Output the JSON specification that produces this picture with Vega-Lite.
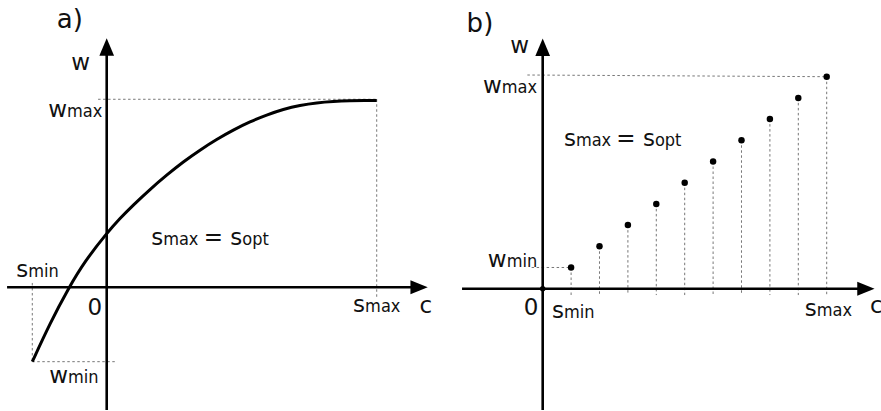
{
  "$schema": "https://vega.github.io/schema/vega-lite/v6.json",
  "padding": 0,
  "spacing": 0,
  "bounds": "flush",
  "background": "white",
  "config": {
    "view": {"stroke": null},
    "text": {"font": "DejaVu Sans", "color": "#111111", "baseline": "alphabetic"}
  },
  "datasets": {
    "curveA": [
      {"c": -2.756, "w": -3.957},
      {"c": -2.1, "w": -1.915},
      {"c": -1.422, "w": -0.064},
      {"c": -0.804, "w": 1.399},
      {"c": 0.0, "w": 2.872},
      {"c": 0.493, "w": 3.67},
      {"c": 0.985, "w": 4.378},
      {"c": 1.604, "w": 5.213},
      {"c": 2.222, "w": 5.973},
      {"c": 2.837, "w": 6.681},
      {"c": 3.456, "w": 7.303},
      {"c": 4.074, "w": 7.872},
      {"c": 4.689, "w": 8.367},
      {"c": 5.307, "w": 8.809},
      {"c": 5.926, "w": 9.165},
      {"c": 6.541, "w": 9.468},
      {"c": 7.159, "w": 9.681},
      {"c": 7.778, "w": 9.814},
      {"c": 8.393, "w": 9.883},
      {"c": 9.011, "w": 9.92},
      {"c": 9.567, "w": 9.931},
      {"c": 10.0, "w": 9.936}
    ],
    "axesA": [
      {"c": -3.69, "w": 0, "c2": 11.57, "w2": 0},
      {"c": 0, "w": -6.53, "c2": 0, "w2": 12.78}
    ],
    "arrowsA": [
      {"c": 11.57, "w": 0, "dir": "right"},
      {"c": 0, "w": 12.78, "dir": "up"}
    ],
    "guidesA": [
      {"c": -0.32, "w": 10, "c2": 10, "w2": 10},
      {"c": 10, "w": 10, "c2": 10, "w2": -0.57},
      {"c": -2.756, "w": 0.23, "c2": -2.756, "w2": -3.957},
      {"c": -2.756, "w": -3.957, "c2": 0.37, "w2": -3.957}
    ],
    "labelsA": [
      {"c": -0.88, "w": 13.79, "main": "a)", "sub": "", "big": true},
      {"c": -0.62, "w": 11.56, "main": "w", "sub": "", "big": false},
      {"c": -1.47, "w": 9.06, "main": "w", "sub": "max", "big": false},
      {"c": 2.09, "w": 2.25, "main": "s", "sub": "max", "big": false},
      {"c": 5.02, "w": 2.25, "main": "= s", "sub": "opt", "big": false},
      {"c": -2.91, "w": 0.55, "main": "s", "sub": "min", "big": false},
      {"c": -0.17, "w": -1.47, "main": "0", "sub": "", "big": false},
      {"c": 9.57, "w": -1.31, "main": "s", "sub": "max", "big": false},
      {"c": 12.05, "w": -1.37, "main": "c", "sub": "", "big": false},
      {"c": -1.43, "w": -5.09, "main": "w", "sub": "min", "big": false}
    ],
    "pointsB": [
      {"c": 1, "w": 1},
      {"c": 2, "w": 2},
      {"c": 3, "w": 3},
      {"c": 4, "w": 4},
      {"c": 5, "w": 5},
      {"c": 6, "w": 6},
      {"c": 7, "w": 7},
      {"c": 8, "w": 8},
      {"c": 9, "w": 9},
      {"c": 10, "w": 10}
    ],
    "axesB": [
      {"c": -2.84, "w": 0, "c2": 11.38, "w2": 0},
      {"c": 0, "w": -5.72, "c2": 0, "w2": 11.39}
    ],
    "arrowsB": [
      {"c": 11.38, "w": 0, "dir": "right"},
      {"c": 0, "w": 11.39, "dir": "up"}
    ],
    "guidesB": [
      {"c": 1, "w": 1, "c2": 1, "w2": -0.3},
      {"c": 2, "w": 2, "c2": 2, "w2": -0.3},
      {"c": 3, "w": 3, "c2": 3, "w2": -0.3},
      {"c": 4, "w": 4, "c2": 4, "w2": -0.3},
      {"c": 5, "w": 5, "c2": 5, "w2": -0.3},
      {"c": 6, "w": 6, "c2": 6, "w2": -0.3},
      {"c": 7, "w": 7, "c2": 7, "w2": -0.3},
      {"c": 8, "w": 8, "c2": 8, "w2": -0.3},
      {"c": 9, "w": 9, "c2": 9, "w2": -0.3},
      {"c": 10, "w": 10, "c2": 10, "w2": -0.3},
      {"c": -0.39, "w": 1, "c2": 1, "w2": 1},
      {"c": -0.54, "w": 10.08, "c2": 10, "w2": 10}
    ],
    "labelsB": [
      {"c": -1.74, "w": 12.12, "main": "b)", "sub": "", "big": true},
      {"c": -0.48, "w": 11.12, "main": "w", "sub": "", "big": false},
      {"c": -1.44, "w": 9.25, "main": "w", "sub": "max", "big": false},
      {"c": 1.17, "w": 6.75, "main": "s", "sub": "max", "big": false},
      {"c": 3.95, "w": 6.75, "main": "= s", "sub": "opt", "big": false},
      {"c": -1.27, "w": 1.04, "main": "w", "sub": "min", "big": false},
      {"c": -0.15, "w": -1.24, "main": "0", "sub": "", "big": false},
      {"c": 0.75, "w": -1.40, "main": "s", "sub": "min", "big": false},
      {"c": 9.65, "w": -1.29, "main": "s", "sub": "max", "big": false},
      {"c": 11.97, "w": -1.15, "main": "c", "sub": "", "big": false}
    ]
  },
  "hconcat": [
    {
      "width": 440,
      "height": 411,
      "encoding": {
        "x": {"field": "c", "type": "quantitative", "axis": null, "scale": {"domain": [-3.952, 12.344], "nice": false, "zero": false}},
        "y": {"field": "w", "type": "quantitative", "axis": null, "scale": {"domain": [-6.58, 15.28], "nice": false, "zero": false}}
      },
      "layer": [
        {
          "data": {"name": "guidesA"},
          "mark": {"type": "rule", "stroke": "#777777", "strokeWidth": 1, "strokeDash": [2.5, 2.5]},
          "encoding": {"x2": {"field": "c2"}, "y2": {"field": "w2"}}
        },
        {
          "data": {"name": "axesA"},
          "mark": {"type": "rule", "stroke": "#000000", "strokeWidth": 2.6},
          "encoding": {"x2": {"field": "c2"}, "y2": {"field": "w2"}}
        },
        {
          "data": {"name": "arrowsA"},
          "mark": {"type": "point", "filled": true, "color": "#000000", "size": 300, "opacity": 1},
          "encoding": {
            "shape": {"field": "dir", "type": "nominal", "legend": null, "scale": {"domain": ["right", "up"], "range": ["M-1,-0.8L1,0L-1,0.8Z", "M-0.85,1L0,-1L0.85,1Z"]}}
          }
        },
        {
          "data": {"name": "curveA"},
          "mark": {"type": "line", "interpolate": "basis", "stroke": "#000000", "strokeWidth": 3}
        },
        {
          "data": {"name": "labelsA"},
          "mark": {"type": "text", "align": "right"},
          "encoding": {
            "text": {"field": "main"},
            "size": {"condition": {"test": "datum.big", "value": 26}, "value": 23}
          }
        },
        {
          "data": {"name": "labelsA"},
          "mark": {"type": "text", "align": "left", "font": "DejaVu Sans Condensed, DejaVu Sans", "fontSize": 18},
          "encoding": {"text": {"field": "sub"}}
        }
      ]
    },
    {
      "width": 441,
      "height": 411,
      "encoding": {
        "x": {"field": "c", "type": "quantitative", "axis": null, "scale": {"domain": [-3.616, 11.912], "nice": false, "zero": false}},
        "y": {"field": "w", "type": "quantitative", "axis": null, "scale": {"domain": [-5.769, 13.618], "nice": false, "zero": false}}
      },
      "layer": [
        {
          "data": {"name": "guidesB"},
          "mark": {"type": "rule", "stroke": "#777777", "strokeWidth": 1, "strokeDash": [2.5, 2.5]},
          "encoding": {"x2": {"field": "c2"}, "y2": {"field": "w2"}}
        },
        {
          "data": {"name": "axesB"},
          "mark": {"type": "rule", "stroke": "#000000", "strokeWidth": 2.6},
          "encoding": {"x2": {"field": "c2"}, "y2": {"field": "w2"}}
        },
        {
          "data": {"name": "arrowsB"},
          "mark": {"type": "point", "filled": true, "color": "#000000", "size": 300, "opacity": 1},
          "encoding": {
            "shape": {"field": "dir", "type": "nominal", "legend": null, "scale": {"domain": ["right", "up"], "range": ["M-1,-0.8L1,0L-1,0.8Z", "M-0.85,1L0,-1L0.85,1Z"]}}
          }
        },
        {
          "data": {"values": [{"c": 0, "w": 0}]},
          "mark": {"type": "point", "filled": true, "color": "#000000", "size": 30, "opacity": 1}
        },
        {
          "data": {"name": "pointsB"},
          "mark": {"type": "point", "filled": true, "color": "#000000", "size": 42, "opacity": 1}
        },
        {
          "data": {"name": "labelsB"},
          "mark": {"type": "text", "align": "right"},
          "encoding": {
            "text": {"field": "main"},
            "size": {"condition": {"test": "datum.big", "value": 26}, "value": 23}
          }
        },
        {
          "data": {"name": "labelsB"},
          "mark": {"type": "text", "align": "left", "font": "DejaVu Sans Condensed, DejaVu Sans", "fontSize": 18},
          "encoding": {"text": {"field": "sub"}}
        }
      ]
    }
  ]
}
